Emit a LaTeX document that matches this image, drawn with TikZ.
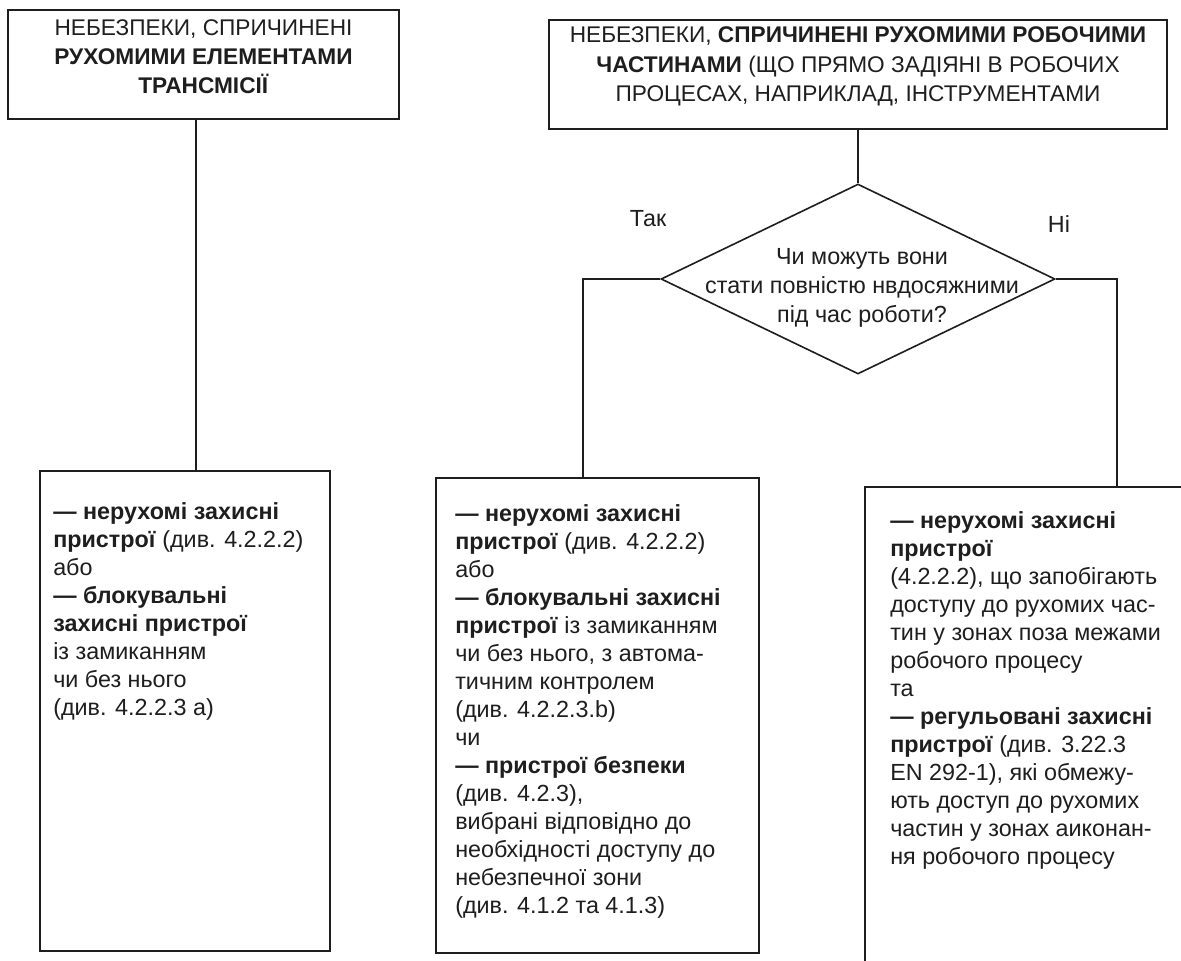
\documentclass[tikz,border=0pt]{standalone}
\usepackage{fontspec}
\setmainfont{Liberation Sans}
\usetikzlibrary{shapes.geometric,fit}
\definecolor{ink}{HTML}{1E1E1E}
\begin{document}
\begin{tikzpicture}[x=0.75pt,y=-0.75pt,
  box/.style={draw=ink, line width=1.2pt, inner sep=0pt},
  toptext/.style={font=\fontsize{17}{22}\selectfont, align=center, text=ink},
  bodytext/.style={font=\fontsize{17.5}{21}\selectfont, align=left, anchor=north west, inner sep=0pt, text=ink},
  lbl/.style={font=\fontsize{17.5}{21}\selectfont, text=ink},
  conn/.style={draw=ink, line width=1.2pt}]
\useasboundingbox (0,0) rectangle (1181,960);
\fill[white] (0,0) rectangle (1181,960);
\clip (0,0) rectangle (1181,960);

% top boxes
\node[box, toptext, fit={(8,10) (399,119)}] (b1)
  {НЕБЕЗПЕКИ, СПРИЧИНЕНІ\\\textbf{РУХОМИМИ ЕЛЕМЕНТАМИ}\\\textbf{ТРАНСМІСІЇ}};
\node[box, toptext, fit={(549,20) (1167,129)}] (b2)
  {НЕБЕЗПЕКИ, \textbf{СПРИЧИНЕНІ РУХОМИМИ РОБОЧИМИ}\\\textbf{ЧАСТИНАМИ} (ЩО ПРЯМО ЗАДІЯНІ В РОБОЧИХ\\ПРОЦЕСАХ, НАПРИКЛАД, ІНСТРУМЕНТАМИ};

% decision
\node[diamond, draw=ink, line width=1.2pt, inner sep=0pt,
  minimum width={394*0.75pt}, minimum height={190*0.75pt}] (d) at (858,279) {};
\node[font=\fontsize{17.5}{21.5}\selectfont, align=center, text=ink] (dt) at (862,288)
  {Чи можуть вони\\стати повністю нвдосяжними\\під час роботи?};
\node[lbl] (yes) at (648,219) {Так};
\node[lbl] (no) at (1059,224) {Ні};

% bottom boxes
\node[box, fit={(40,471) (330,951)}] (b4) {};
\node[box, fit={(436,478) (759,953)}] (b5) {};
\node[box, fit={(865,487) (1369,990)}] (b6) {};

\node[bodytext] (t4) at (53,502)
  {\textbf{— нерухомі захисні}\\\textbf{пристрої} (див. 4.2.2.2)\\або\\\textbf{— блокувальні}\\\textbf{захисні пристрої}\\із замиканням\\чи без нього\\(див. 4.2.2.3 а)};
\node[bodytext] (t5) at (455,504)
  {\textbf{— нерухомі захисні}\\\textbf{пристрої} (див. 4.2.2.2)\\або\\\textbf{— блокувальні захисні}\\\textbf{пристрої} із замиканням\\чи без нього, з автома-\\тичним контролем\\(див. 4.2.2.3.b)\\чи\\\textbf{— пристрої безпеки}\\(див. 4.2.3),\\вибрані відповідно до\\необхідності доступу до\\небезпечної зони\\(див. 4.1.2 та 4.1.3)};
\node[bodytext] (t6) at (890,511)
  {\textbf{— нерухомі захисні}\\\textbf{пристрої}\\(4.2.2.2), що запобігають\\доступу до рухомих час-\\тин у зонах поза межами\\робочого процесу\\та\\\textbf{— регульовані захисні}\\\textbf{пристрої} (див. 3.22.3\\EN 292-1), які обмежу-\\ють доступ до рухомих\\частин у зонах аиконан-\\ня робочого процесу};

% connectors
\coordinate (j1) at (196,0);
\coordinate (j5) at (583,0);
\coordinate (j6) at (1117,0);
\draw[conn] (b1.south -| j1) -- (b4.north -| j1);
\draw[conn] (b2.south) -- (d.north);
\draw[conn] (d.west) -| (b5.north -| j5);
\draw[conn] (d.east) -| (b6.north -| j6);
\end{tikzpicture}
\end{document}
